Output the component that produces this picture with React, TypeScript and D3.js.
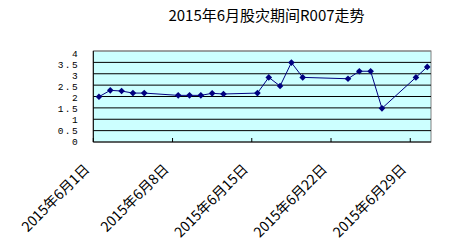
import React from "react";
import * as d3 from "d3";

const title = "2015年6月股灾期间R007走势";
const dates = [
  "2015-06-01", "2015-06-02", "2015-06-03", "2015-06-04", "2015-06-05",
  "2015-06-08", "2015-06-09", "2015-06-10", "2015-06-11", "2015-06-12",
  "2015-06-15", "2015-06-16", "2015-06-17", "2015-06-18", "2015-06-19",
  "2015-06-23", "2015-06-24", "2015-06-25", "2015-06-26",
  "2015-06-29", "2015-06-30",
];
const r007 = [
  1.99, 2.27, 2.24, 2.15, 2.15,
  2.05, 2.05, 2.05, 2.14, 2.11,
  2.15, 2.84, 2.46, 3.49, 2.84,
  2.78, 3.11, 3.11, 1.48,
  2.84, 3.3,
];
const yTicks = [0, 0.5, 1, 1.5, 2, 2.5, 3, 3.5, 4];
const yTickLabels = ["0", "0.5", "1", "1.5", "2", "2.5", "3", "3.5", "4"];
const xTickDates = ["2015-06-01", "2015-06-08", "2015-06-15", "2015-06-22", "2015-06-29"];
const xTickLabels = ["2015年6月1日", "2015年6月8日", "2015年6月15日", "2015年6月22日", "2015年6月29日"];

const W = 472;
const H = 245;
const plotLeft = 93.3;
const plotRight = 431;
const plotTop = 51;
const plotBottom = 142;
const dayW = 11.32;

const parse = d3.timeParse("%Y-%m-%d");

export default function App() {
  const x = d3
    .scaleTime()
    .domain([parse("2015-06-01")!, parse("2015-07-01")!])
    .range([plotLeft, plotLeft + 30 * dayW]);
  const y = d3.scaleLinear().domain([0, 4]).range([plotBottom, plotTop]);
  const yLab = d3.scaleLinear().domain([0, 4]).range([141.3, 54]);

  const pts = dates.map((d, i) => ({
    x: x(d3.timeHour.offset(parse(d)!, 12)),
    y: y(r007[i]),
  }));
  const line = d3
    .line<{ x: number; y: number }>()
    .x((d) => d.x)
    .y((d) => d.y);
  const diamond = d3.symbol().type(d3.symbolDiamond2).size(28)();

  return (
    <svg
      width={W}
      height={H}
      style={{ position: "absolute", left: 0, top: 0, background: "#fff" }}
    >
      <text
        x={266.5}
        y={21}
        textAnchor="middle"
        fontFamily="'Noto Sans CJK SC', sans-serif"
        fontSize={15}
        fill="#000"
      >
        {title}
      </text>

      <rect
        x={plotLeft}
        y={plotTop}
        width={plotRight - plotLeft}
        height={plotBottom - plotTop}
        fill="#CCFFFF"
        stroke="#808080"
        strokeWidth={1}
      />
      {yTicks.map((t) =>
        t === 0 ? null : (
          <line
            key={t}
            x1={plotLeft}
            x2={plotRight}
            y1={y(t)}
            y2={y(t)}
            stroke={t === 4 ? "#808080" : "#000"}
            strokeWidth={1}
          />
        )
      )}
      <line x1={plotLeft} x2={plotLeft} y1={plotTop} y2={plotBottom} stroke="#000" />
      <line x1={plotLeft} x2={plotRight} y1={plotBottom} y2={plotBottom} stroke="#000" />
      {xTickDates.map((d) => (
        <line
          key={d}
          x1={x(parse(d)!)}
          x2={x(parse(d)!)}
          y1={plotBottom - 4}
          y2={plotBottom}
          stroke="#000"
        />
      ))}

      {yTicks.map((t, i) => (
        <text
          key={t}
          x={79}
          y={yLab(t) + 3.4}
          textAnchor="end"
          fontFamily="'Liberation Mono', monospace"
          fontSize={9.5}
          letterSpacing={1.4}
          fill="#000"
        >
          {yTickLabels[i]}
        </text>
      ))}

      {xTickDates.map((d, i) => {
        const tx = x(parse(d)!) - 3;
        const ty = 170;
        return (
          <text
            key={d}
            transform={`translate(${tx},${ty}) rotate(-45)`}
            textAnchor="end"
            fontFamily="'Noto Sans CJK SC', sans-serif"
            fontSize={14}
            fill="#000"
          >
            {xTickLabels[i]}
          </text>
        );
      })}

      <path d={line(pts) || ""} fill="none" stroke="#000080" strokeWidth={1} />
      {pts.map((p, i) => (
        <path key={i} d={diamond || ""} transform={`translate(${p.x},${p.y})`} fill="#000080" />
      ))}
    </svg>
  );
}
